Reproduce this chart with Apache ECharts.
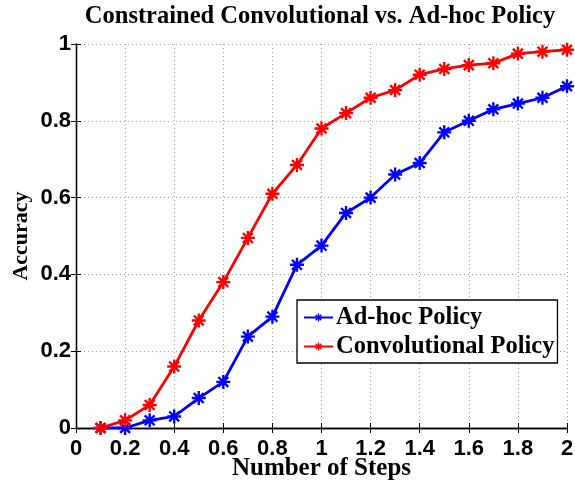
<!DOCTYPE html>
<html>
<head>
<meta charset="utf-8">
<script src="https://cdn.jsdelivr.net/npm/echarts@6/dist/echarts.min.js"></script>
<style>
html,body{margin:0;padding:0;background:#fff;}
#chart{width:575px;height:485px;}
</style>
</head>
<body>
<div id="chart"></div>
<script>
// Step counts and accuracies for the two policies
var steps = [0.1,0.2,0.3,0.4,0.5,0.6,0.7,0.8,0.9,1.0,1.1,1.2,1.3,1.4,1.5,1.6,1.7,1.8,1.9,2.0];
var adhocAcc = [0,0,0.02,0.03,0.078,0.12,0.238,0.29,0.425,0.475,0.56,0.60,0.66,0.69,0.77,0.80,0.83,0.845,0.86,0.89];
var convAcc = [0,0.02,0.06,0.16,0.28,0.38,0.495,0.61,0.685,0.78,0.82,0.86,0.88,0.92,0.935,0.945,0.95,0.975,0.98,0.985];
var xTicks = [0,0.2,0.4,0.6,0.8,1,1.2,1.4,1.6,1.8,2];
var yTicks = [0,0.2,0.4,0.6,0.8,1];

function pairs(xs, ys){ return xs.map(function(x,i){ return [x, ys[i]]; }); }
function tickText(v){ return String(+v.toFixed(1)); }

// eight-spoke asterisk marker built from four filled bars
function asterisk(){
  var L = 10, W = 1.7, parts = [];
  [0,45,90,135].forEach(function(a){
    var r = a*Math.PI/180, c = Math.cos(r), s = Math.sin(r);
    var pts = [[-L,-W],[L,-W],[L,W],[-L,W]].map(function(p){
      return [(p[0]*c - p[1]*s).toFixed(3), (p[0]*s + p[1]*c).toFixed(3)];
    });
    parts.push('M'+pts[0].join(' ')+' L'+pts[1].join(' ')+' L'+pts[2].join(' ')+' L'+pts[3].join(' ')+' Z');
  });
  return 'path://' + parts.join(' ');
}
var star = asterisk();

var tickFont = {fontFamily:'Liberation Sans', fontWeight:'bold', fontSize:22, color:'#000'};
var gridLine = {show:true, lineStyle:{color:'#a0a0a0', type:[1,3], width:1}};
var chart = echarts.init(document.getElementById('chart'));
chart.setOption({
  animation:false,
  backgroundColor:'#fff',
  title:{
    text:'Constrained Convolutional vs. Ad-hoc Policy',
    left:315, textAlign:'center', top:-1,
    textStyle:{fontFamily:'Liberation Serif', fontWeight:'bold', fontSize:24.5, color:'#000'}
  },
  grid:{left:76, right:8, top:44, bottom:57, containLabel:false, outerBoundsMode:'none'},
  legend:{
    left:297, top:300, orient:'vertical',
    itemWidth:29, itemHeight:10, itemGap:4,
    padding:[5,3,4,6],
    borderColor:'#000', borderWidth:1.3, backgroundColor:'#fff',
    textStyle:{fontFamily:'Liberation Serif', fontWeight:'bold', fontSize:24.5, color:'#000', padding:[0,0,0,-2]},
    data:['Ad-hoc Policy','Convolutional Policy']
  },
  xAxis:[{
    type:'value', min:0, max:2, interval:0.2,
    name:'Number of Steps', nameLocation:'middle', nameGap:28, nameMoveOverlap:false,
    nameTextStyle:{fontFamily:'Liberation Serif', fontWeight:'bold', fontSize:25, color:'#000'},
    axisLine:{lineStyle:{color:'#000', width:1.3}},
    axisTick:{inside:true, length:5, lineStyle:{color:'#000'}},
    axisLabel:Object.assign({margin:10, formatter:tickText}, tickFont),
    splitLine:gridLine
  },{
    type:'value', min:0, max:2, interval:0.2, position:'top',
    axisLine:{lineStyle:{color:'#000', width:1.3}},
    axisTick:{inside:true, length:5, lineStyle:{color:'#000'}},
    axisLabel:{show:false}, splitLine:{show:false}
  }],
  yAxis:[{
    type:'value', min:0, max:1, interval:0.2,
    name:'Accuracy', nameLocation:'middle', nameGap:44, nameRotate:90, nameMoveOverlap:false,
    nameTextStyle:{fontFamily:'Liberation Serif', fontWeight:'bold', fontSize:22, color:'#000'},
    axisLine:{show:true, lineStyle:{color:'#000', width:1.3}},
    axisTick:{show:true, inside:true, length:5, lineStyle:{color:'#000'}},
    axisLabel:Object.assign({margin:5, formatter:tickText}, tickFont),
    splitLine:gridLine
  },{
    type:'value', min:0, max:1, interval:0.2, position:'right',
    axisLine:{show:true, lineStyle:{color:'#000', width:1.3}},
    axisTick:{show:true, inside:true, length:5, lineStyle:{color:'#000'}},
    axisLabel:{show:false}, splitLine:{show:false}
  }],
  series:[{
    name:'Ad-hoc Policy', type:'line', data:pairs(steps, adhocAcc),
    symbol:star, symbolSize:14, showAllSymbol:true,
    lineStyle:{color:'#0000ff', width:2.8}, itemStyle:{color:'#0000ff'}, z:3
  },{
    name:'Convolutional Policy', type:'line', data:pairs(steps, convAcc),
    symbol:star, symbolSize:14, showAllSymbol:true,
    lineStyle:{color:'#ff0000', width:2.8}, itemStyle:{color:'#ff0000'}, z:3
  }]
});
</script>
</body>
</html>
